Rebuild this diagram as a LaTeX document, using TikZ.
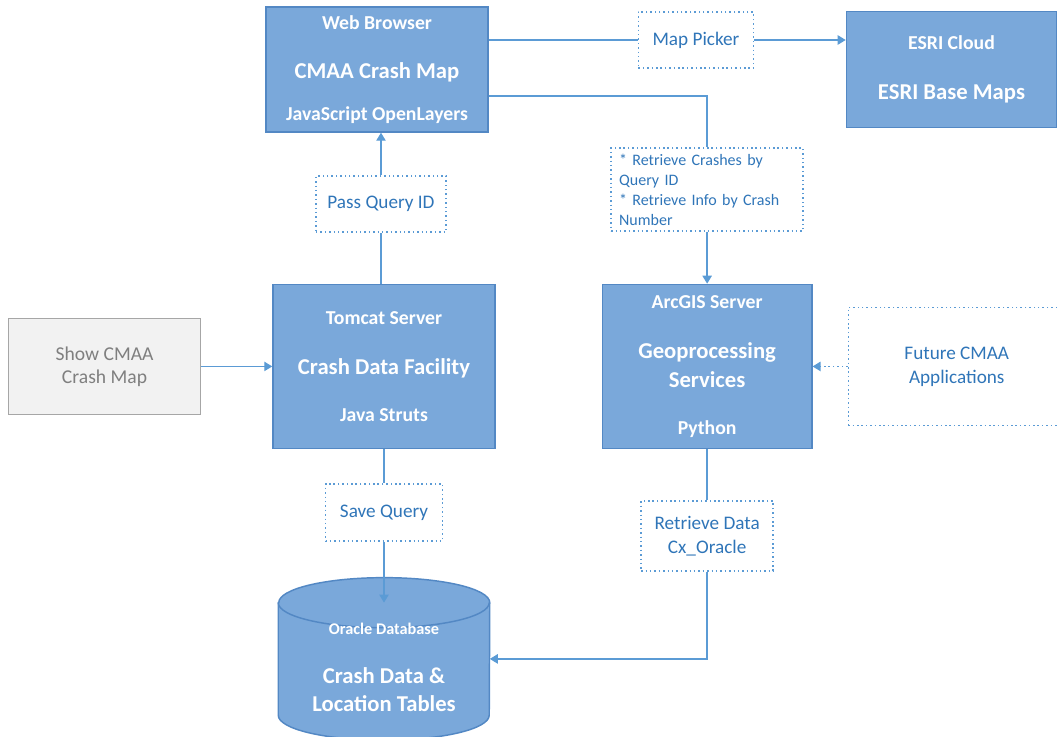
\documentclass[tikz,border=0pt]{standalone}
\usepackage{fontspec}
\setmainfont{Carlito}
\usetikzlibrary{positioning,arrows.meta}

\definecolor{boxfill}{HTML}{7AA8DA}
\definecolor{boxline}{HTML}{5388C4}
\definecolor{conn}{HTML}{5B9BD5}
\definecolor{notetext}{HTML}{2F75B8}
\definecolor{greyfill}{HTML}{F2F2F2}
\definecolor{greyline}{HTML}{A6A6A6}
\definecolor{greytext}{HTML}{7F7F7F}
\newcommand{\bigtxt}{\fontsize{17}{20}\selectfont}

\begin{document}
\begin{tikzpicture}
      [
        >={Triangle[width=7pt,length=6pt]},
        serv/.style={rectangle, draw=boxline, fill=boxfill, line width=1.1pt, text=white, align=center, inner sep=0pt, font=\bfseries\fontsize{14.8}{18}\selectfont},
        note/.style={rectangle, draw=conn, line width=1.1pt, dash pattern=on 1.1pt off 2.2pt, text=notetext, align=center, inner sep=0pt, font=\fontsize{14.4}{18}\selectfont},
        user/.style={rectangle, draw=greyline, fill=greyfill, line width=1.1pt, text=greytext, align=center, inner sep=0pt, font=\fontsize{14.7}{17.25}\selectfont},
        link/.style={draw=conn, line width=1pt},
        cyl/.style={draw=boxline, fill=boxfill, line width=1.1pt}
      ]
      \useasboundingbox (0,0) rectangle (792.75pt,-552pt);
      \node[serv, minimum width=166.5pt, minimum height=93.75pt] (web) at (282.75pt,-52.1pt) {Web Browser\\[19pt]{\bigtxt CMAA Crash Map}\\[13pt]JavaScript OpenLayers};
      \node[serv, minimum width=157.5pt, minimum height=87pt] (esri) [right=267.75pt of web] {ESRI Cloud\\[20pt]{\bigtxt ESRI Base Maps}};
      \node[note, minimum width=86.25pt, minimum height=42pt] (mappick) [right=111.75pt of web, yshift=22.1pt] {Map Picker};
      \node[serv, minimum width=166.5pt, minimum height=123pt] (tomcat) [below=113.25pt of web, xshift=5.25pt] {Tomcat Server\\[20pt]{\bigtxt Crash Data Facility}\\[17pt]Java Struts};
      \node[note, minimum width=97.5pt, minimum height=42pt] (pass) [above=38.25pt of tomcat, xshift=-2.25pt] {Pass Query ID};
      \node[user, minimum width=144pt, minimum height=72pt] (show) [left=53.25pt of tomcat] {Show CMAA\\Crash Map};
      \node[serv, minimum width=157pt, minimum height=123pt] (arcgis) [right=79.5pt of tomcat] {ArcGIS Server\\[19.5pt]{\bigtxt Geoprocessing}\\[3.75pt]{\bigtxt Services}\\[17pt]Python};
      \node[note, minimum width=162.75pt, minimum height=88.5pt] (future) [right=26.25pt of arcgis] {Future CMAA\\Applications};
      \node[note, minimum width=144pt, minimum height=62.25pt, align=left, text width=132pt, font=\fontsize{12}{15}\selectfont] (crashes) [above=39pt of arcgis] {* Retrieve Crashes by\\Query ID\\{}* Retrieve Info by Crash\\Number};
      \node[note, minimum width=87.75pt, minimum height=42.75pt] (save) [below=25.5pt of tomcat] {Save Query};
      \node[note, minimum width=99pt, minimum height=52.5pt] (retr) [below=38.25pt of arcgis] {Retrieve Data\\Cx\_Oracle};
      \node[minimum width=158.25pt, minimum height=121.5pt, inner sep=0pt] (db) [below=27pt of save] {};
      \draw[cyl] ([yshift=-18.75pt]db.north west) -- ([yshift=18.75pt]db.south west)
        arc[start angle=180, end angle=360, x radius=79.125pt, y radius=18.75pt]
        -- ([yshift=-18.75pt]db.north east)
        arc[start angle=0, end angle=180, x radius=79.125pt, y radius=18.75pt] -- cycle;
      \draw[cyl, fill=none] ([yshift=-18.75pt]db.north west) arc[start angle=180, end angle=360, x radius=79.125pt, y radius=18.75pt];
      \node[serv, draw=none, fill=none, font=\bfseries\fontsize{12.2}{14}\selectfont] (dblabel) at ([yshift=-6pt]db.center) {Oracle Database\\[22.75pt]{\bigtxt Crash Data \&}\\[7pt]{\bigtxt Location Tables}};
      \coordinate (dbtop) at ([yshift=-18.75pt]db.north);
      \draw[link] (web.east |- mappick.west) -- (mappick.west);
      \draw[link,->] (mappick.east) -- (mappick.east -| esri.west);
      \draw[link] ([yshift=-20pt]web.east) -| (crashes.north);
      \draw[link,->] (crashes.south) -- (arcgis.north);
      \draw[link] (pass.south |- tomcat.north) -- (pass.south);
      \draw[link,->] (pass.north) -- (pass.north |- web.south);
      \draw[link,->] (show.east) -- (tomcat.west);
      \draw[link,->,dash pattern=on 1.1pt off 2.2pt] (future.west) -- (arcgis.east);
      \draw[link] (save.north |- tomcat.south) -- (save.north);
      \draw[link,->] (save.south) -- (dbtop);
      \draw[link] (arcgis.south) -- (retr.north);
      \draw[link,->] (retr.south) |- (db.east);
    \end{tikzpicture}
\end{document}
